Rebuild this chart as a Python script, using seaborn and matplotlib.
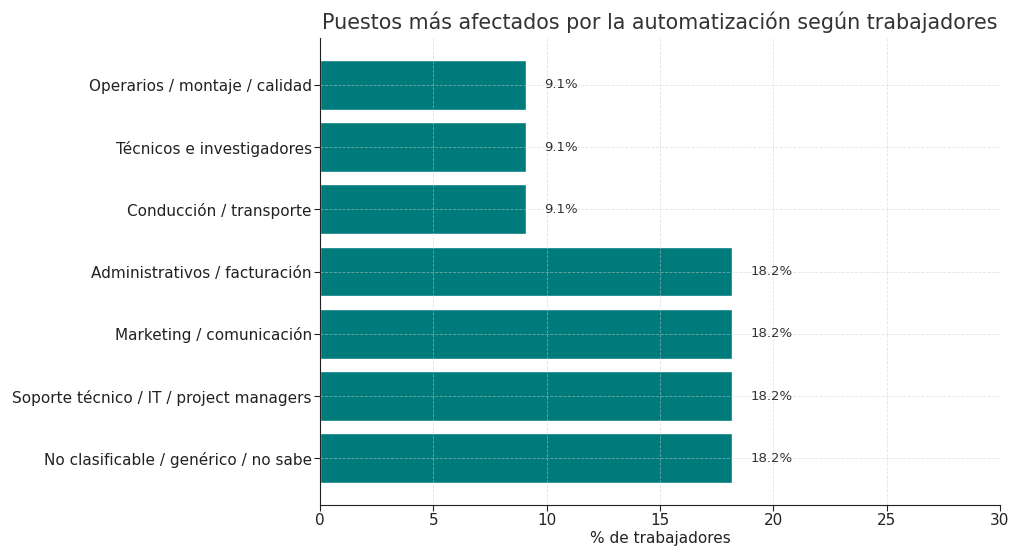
import matplotlib
matplotlib.use("Agg")
import matplotlib.pyplot as plt
import seaborn as sns
import pandas as pd

categorias = [
    "Operarios / montaje / calidad",
    "Técnicos e investigadores",
    "Conducción / transporte",
    "Administrativos / facturación",
    "Marketing / comunicación",
    "Soporte técnico / IT / project managers",
    "No clasificable / genérico / no sabe",
]
porcentajes = [9.1, 9.1, 9.1, 18.2, 18.2, 18.2, 18.2]

df = pd.DataFrame({"puesto": categorias, "pct": porcentajes})

sns.set_style("white")
plt.rcParams["font.family"] = ["DejaVu Sans"]

fig, ax = plt.subplots(figsize=(10.11, 5.47), dpi=100)
fig.subplots_adjust(left=0.3165, right=0.989, top=0.93, bottom=0.077)

sns.barplot(data=df, x="pct", y="puesto", color="#007B7B", saturation=1,
            width=0.8, ax=ax, orient="h")

for i, v in enumerate(porcentajes):
    ax.text(v + 0.8, i, f"{v}%", va="center", ha="left", fontsize=9.5, color="#333333")

ax.set_xlim(0, 30)
ax.set_ylim(len(categorias) - 0.25, -0.75)
ax.set_xticks([0, 5, 10, 15, 20, 25, 30])
ax.set_axisbelow(False)
ax.grid(True, linestyle="--", linewidth=0.6, color="#cccccc", alpha=0.55)
ax.spines["top"].set_visible(False)
ax.spines["right"].set_visible(False)
for s in ("left", "bottom"):
    ax.spines[s].set_color("#222222")
    ax.spines[s].set_zorder(5)
ax.tick_params(axis="both", which="both", length=4, color="#222222", left=True, bottom=True)
ax.tick_params(axis="y", labelsize=11, labelcolor="#222222", pad=2)
ax.tick_params(axis="x", labelsize=11, labelcolor="#222222", pad=2)
ax.set_xlabel("% de trabajadores", fontsize=11, color="#222222", labelpad=2)
ax.set_ylabel("")
ax.set_title("Puestos más afectados por la automatización según trabajadores",
             fontsize=14.9, color="#333333", pad=7)

fig.savefig("out.png", dpi=100)
